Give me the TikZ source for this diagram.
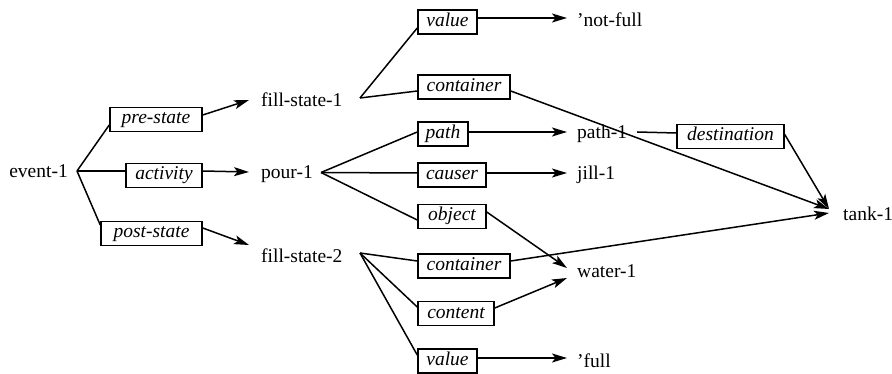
\documentclass[tikz,border=0pt]{standalone}
\usepackage{fontspec}
\setmainfont{Liberation Serif}
\usetikzlibrary{arrows.meta}
\begin{document}
\begin{tikzpicture}[x=1pt,y=-1pt,
  every node/.style={font=\fontsize{19.5}{23}\selectfont},
  lbl/.style={draw, line width=1.5pt, font=\fontsize{19.5}{23}\selectfont\itshape,
    inner sep=0pt, minimum height=24pt, text height=13pt, text depth=4pt},
  txt/.style={inner ysep=0pt, inner xsep=12pt, text height=14pt, text depth=0pt},
  ln/.style={line width=1.5pt},
  arr/.style={line width=1.5pt, -{Stealth[length=15pt,width=9pt,inset=3.5pt]}}]
\useasboundingbox (0,0) rectangle (892,374);

% boxes
\node[lbl, minimum width=92pt]  (pre)  at (156,119.5) {pre-state};
\node[lbl, minimum width=76pt]  (act)  at (164,175.5) {activity};
\node[lbl, minimum width=101pt] (post) at (151.5,233.5) {post-state};
\node[lbl, minimum width=59pt]  (v1)   at (447.5,22) {value};
\node[lbl, minimum width=92pt]  (c1)   at (464,87) {container};
\node[lbl, minimum width=50pt]  (pa)   at (443,134) {path};
\node[lbl, minimum width=68pt]  (ca)   at (452,175) {causer};
\node[lbl, minimum width=68pt]  (ob)   at (452,216.5) {object};
\node[lbl, minimum width=92pt]  (c2)   at (464,266) {container};
\node[lbl, minimum width=76pt]  (co)   at (456,313.5) {content};
\node[lbl, minimum width=59pt]  (v2)   at (447.5,361) {value};
\node[lbl, minimum width=107pt] (de)   at (730.5,136.5) {destination};

% text nodes
\node[txt, anchor=east, inner xsep=9pt] (ev) at (77,171) {event-1};
\node[txt, anchor=west] (fs1) at (249,100) {fill-state-1};
\node[txt, anchor=west] (po)  at (249,172) {pour-1};
\node[txt, anchor=west] (fs2) at (249,255) {fill-state-2};
\node[txt, anchor=west, inner xsep=10pt] (nf) at (567,20) {'not-full};
\node[txt, anchor=west, inner xsep=10pt] (p1) at (567,132) {path-1};
\node[txt, anchor=west, inner xsep=10pt] (j1) at (567,173) {jill-1};
\node[txt, anchor=west, inner xsep=10pt] (w1) at (567,270) {water-1};
\node[txt, anchor=west, inner xsep=10pt] (fu) at (567,360) {'full};
\node[txt, anchor=west, inner xsep=14pt] (tk) at (829,214) {tank-1};

% branch points
\coordinate (fs1b) at (360,98);
\coordinate (pob)  at (321,172.5);
\coordinate (fs2b) at (360,253);

% event-1
\draw[ln] (ev.east) -- ([yshift=-5.5pt]pre.west);
\draw[ln] (ev.east) -- ([yshift=4.5pt]act.west);
\draw[ln] (ev.east) -- ([yshift=8.5pt]post.west);
\draw[arr] ([yshift=4.5pt]pre.east) -- (fs1.west);
\draw[arr] ([yshift=4.5pt]act.east) -- (po.west);
\draw[arr] ([yshift=5.5pt]post.east) -- ([yshift=10pt]fs2.west);

% fill-state-1
\draw[ln] (fs1b) -- ([yshift=-6pt]v1.west);
\draw[ln] (fs1b) -- ([yshift=-4pt]c1.west);
\draw[arr] ([yshift=4pt]v1.east) -- ([yshift=2pt]nf.west);
\draw[arr] ([yshift=-4pt]c1.east) -- ([yshift=5pt]tk.west);

% pour-1
\draw[ln] (pob) -- ([yshift=2pt]pa.west);
\draw[ln] (pob) -- ([yshift=2pt]ca.west);
\draw[ln] (pob) -- ([yshift=-3.5pt]ob.west);
\draw[arr] ([yshift=2pt]pa.east) -- (p1.west);
\draw[arr] ([yshift=2pt]ca.east) -- (j1.west);
\draw[arr] ([yshift=4.5pt]ob.east) -- ([yshift=2pt]w1.west);
\draw[ln] (p1.east) -- ([yshift=3.5pt]de.west);
\draw[arr] ([yshift=2pt]de.east) -- ([yshift=5pt]tk.west);

% fill-state-2
\draw[ln] (fs2b) -- ([yshift=5pt]c2.west);
\draw[ln] (fs2b) -- ([yshift=6.5pt]co.west);
\draw[ln] (fs2b) -- ([yshift=6pt]v2.west);
\draw[arr] ([yshift=5pt]c2.east) -- ([yshift=1pt]tk.west);
\draw[arr] ([yshift=5.5pt]co.east) -- ([yshift=-8pt]w1.west);
\draw[arr] ([yshift=3pt]v2.east) -- ([yshift=2pt]fu.west);
\end{tikzpicture}
\end{document}
